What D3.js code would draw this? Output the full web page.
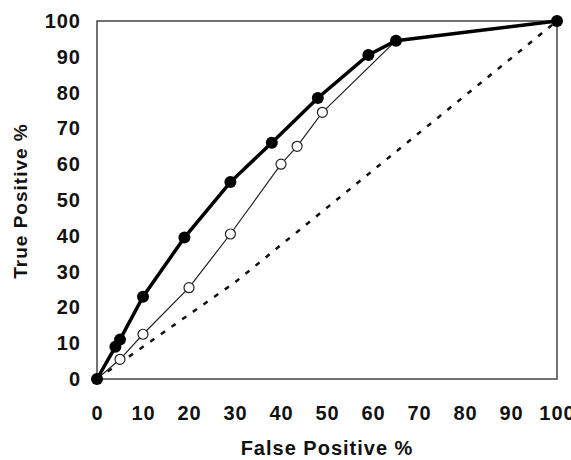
<!DOCTYPE html>
<html>
<head>
<meta charset="utf-8">
<script src="https://cdn.jsdelivr.net/npm/d3@7"></script>
<style>
  body { margin: 0; background: #fff; }
  text { font-family: "Liberation Sans", Arial, sans-serif; font-weight: bold; fill: #111; }
</style>
</head>
<body>
<svg id="chart"></svg>
<script>
// ROC curves
var filledX = [0, 4, 5, 10, 19, 29, 38, 48, 59, 65, 100];
var filledY = [0, 9, 11, 23, 39.5, 55, 66, 78.5, 90.5, 94.5, 100];
var openX = [0, 5, 10, 20, 29, 40, 43.5, 49, 65, 100];
var openY = [0, 5.5, 12.5, 25.5, 40.5, 60, 65, 74.5, 94.5, 100];
var chanceX = [0, 30, 100];
var chanceY = [0, 27, 100];
var xTicks = [0, 10, 20, 30, 40, 50, 60, 70, 80, 90, 100];
var yTicks = [0, 10, 20, 30, 40, 50, 60, 70, 80, 90, 100];

var width = 571, height = 460;
var plotLeft = 97, plotRight = 557, plotTop = 21, plotBottom = 379;

var svg = d3.select("#chart")
    .attr("width", width)
    .attr("height", height);

var x = d3.scaleLinear().domain([0, 100]).range([plotLeft, plotRight]);
var y = d3.scaleLinear().domain([0, 100]).range([plotBottom, plotTop]);

// frame
svg.append("rect")
    .attr("x", plotLeft)
    .attr("y", plotTop)
    .attr("width", plotRight - plotLeft)
    .attr("height", plotBottom - plotTop)
    .style("fill", "none")
    .style("stroke", "#444")
    .style("stroke-width", 1.5);

// axes
var xAxis = svg.append("g")
    .attr("transform", "translate(0," + plotBottom + ")")
    .call(d3.axisBottom(x).tickValues(xTicks).tickSize(0).tickPadding(27));
var yAxis = svg.append("g")
    .attr("transform", "translate(" + plotLeft + ",0)")
    .call(d3.axisLeft(y).tickValues(yTicks).tickSize(0).tickPadding(16));
[xAxis, yAxis].forEach(function(a) {
    a.select(".domain").remove();
    a.selectAll("text")
        .style("font-size", "20px")
        .style("letter-spacing", "1px")
        .style("font-family", "'Liberation Sans', Arial, sans-serif")
        .style("font-weight", "bold")
        .style("fill", "#111");
});

// axis titles
svg.append("text")
    .attr("x", (plotLeft + plotRight) / 2)
    .attr("y", 455)
    .attr("text-anchor", "middle")
    .style("font-size", "20px")
    .style("letter-spacing", "1px")
    .text("False Positive %");

svg.append("text")
    .attr("transform", "translate(27,201) rotate(-90)")
    .attr("text-anchor", "middle")
    .style("font-size", "19px")
    .style("letter-spacing", "1px")
    .text("True Positive %");

function pts(xs, ys) {
    return xs.map(function(d, i) { return [d, ys[i]]; });
}
var line = d3.line().x(function(d) { return x(d[0]); }).y(function(d) { return y(d[1]); });

// chance line
svg.append("path")
    .datum(pts(chanceX, chanceY))
    .attr("d", line)
    .style("fill", "none")
    .style("stroke", "#111")
    .style("stroke-width", 2.5)
    .style("stroke-dasharray", "5,8");

// open series
var openData = pts(openX, openY);
svg.append("path")
    .datum(openData)
    .attr("d", line)
    .style("fill", "none")
    .style("stroke", "#222")
    .style("stroke-width", 1.2);

// filled series
var filledData = pts(filledX, filledY);
svg.append("path")
    .datum(filledData)
    .attr("d", line)
    .style("fill", "none")
    .style("stroke", "#000")
    .style("stroke-width", 3.5);

svg.selectAll("circle.open")
    .data(openData.slice(1, 8))
    .enter().append("circle")
    .attr("class", "open")
    .attr("cx", function(d) { return x(d[0]); })
    .attr("cy", function(d) { return y(d[1]); })
    .attr("r", 5)
    .style("fill", "#fff")
    .style("stroke", "#222")
    .style("stroke-width", 1.2);

svg.selectAll("circle.filled")
    .data(filledData)
    .enter().append("circle")
    .attr("class", "filled")
    .attr("cx", function(d) { return x(d[0]); })
    .attr("cy", function(d) { return y(d[1]); })
    .attr("r", 6)
    .style("fill", "#000");
</script>
</body>
</html>
